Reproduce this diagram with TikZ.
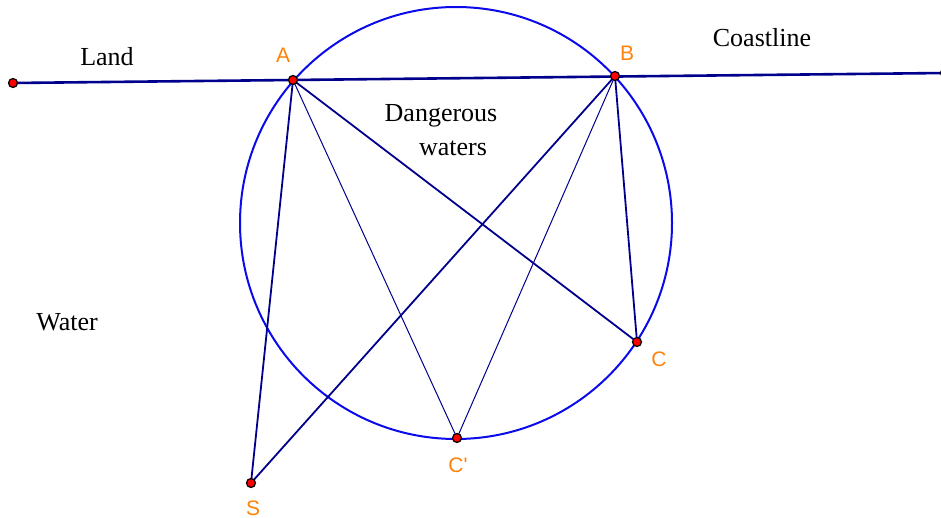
\documentclass[tikz,border=0pt]{standalone}
\usepackage{fontspec}
\setmainfont{Liberation Serif}
\newfontfamily\labfont{Liberation Sans}
\definecolor{navyline}{RGB}{0,0,140}
\definecolor{circblue}{RGB}{10,10,235}
\definecolor{ptorange}{RGB}{255,130,10}
\begin{document}
\begin{tikzpicture}[x=1pt,y=-1pt,
  pt/.style={circle,fill=red,draw=black,line width=1.2pt,inner sep=0pt,minimum size=9pt},
  plab/.style={text=ptorange,font=\labfont\fontsize{21}{21}\selectfont},
  txt/.style={font=\fontsize{26}{27}\selectfont},
  thick line/.style={navyline,line width=1.8pt},
  thin line/.style={navyline,line width=1pt}]
\useasboundingbox (0,0) rectangle (941,518);
\clip (0,0) rectangle (941,518);
\coordinate (L) at (13,83);
\coordinate (R) at (945,73);
\coordinate (A) at (293,80);
\coordinate (B) at (615,76);
\coordinate (C) at (637,342);
\coordinate (Cp) at (457,438);
\coordinate (S) at (251,483);
\coordinate (O) at (456,223);
% circle
\draw[circblue,line width=2pt] (O) circle (216);
% coastline
\draw[navyline,line width=2.6pt] (L) -- (R);
% segments
\draw[thick line] (A) -- (S);
\draw[thick line] (A) -- (C);
\draw[thin line] (A) -- (Cp);
\draw[thick line] (B) -- (S);
\draw[thin line] (B) -- (Cp);
\draw[thick line] (B) -- (C);
% points
\node[pt] (pL) at (L) {};
\node[pt] (pR) at (R) {};
\node[pt] (pA) at (A) {};
\node[pt] (pB) at (B) {};
\node[pt] (pC) at (C) {};
\node[pt] (pCp) at (Cp) {};
\node[pt] (pS) at (S) {};
% point labels
\node[plab] (lA) at (283,55) {A};
\node[plab] (lB) at (627,53) {B};
\node[plab] (lC) at (659,359) {C};
\node[plab] (lCp) at (458,465) {C'};
\node[plab] (lS) at (253,508) {S};
% texts
\node[txt] (land) at (107,57) {Land};
\node[txt] (coast) at (762,38) {Coastline};
\node[txt] (dang) at (441,116) {Dangerous};
\node[txt] (wat) at (453,148) {waters};
\node[txt] (water) at (67,322) {Water};
\end{tikzpicture}
\end{document}
